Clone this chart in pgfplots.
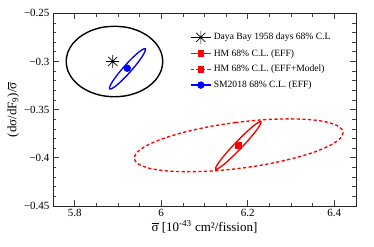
\documentclass[border=0pt]{standalone}
\usepackage{fontspec}
\setmainfont{Liberation Serif}
\usepackage{pgfplots}
\pgfplotsset{compat=1.18}
\pgfdeclareplotmark{star8}{%
  \pgfpathmoveto{\pgfqpoint{-\pgfplotmarksize}{0pt}}\pgfpathlineto{\pgfqpoint{\pgfplotmarksize}{0pt}}%
  \pgfpathmoveto{\pgfqpoint{0pt}{-\pgfplotmarksize}}\pgfpathlineto{\pgfqpoint{0pt}{\pgfplotmarksize}}%
  \pgfpathmoveto{\pgfqpoint{-0.7071\pgfplotmarksize}{-0.7071\pgfplotmarksize}}\pgfpathlineto{\pgfqpoint{0.7071\pgfplotmarksize}{0.7071\pgfplotmarksize}}%
  \pgfpathmoveto{\pgfqpoint{-0.7071\pgfplotmarksize}{0.7071\pgfplotmarksize}}\pgfpathlineto{\pgfqpoint{0.7071\pgfplotmarksize}{-0.7071\pgfplotmarksize}}%
  \pgfusepathqstroke}
\begin{document}
\begin{tikzpicture}
\begin{axis}[
  width=303pt, height=192.7pt, scale only axis,
  xmin=5.75, xmax=6.45, ymin=-0.45, ymax=-0.25,
  axis line style={black!85, line width=0.8pt},
  xtick={5.8,6,6.2,6.4}, xticklabels={5.8,6,6.2,6.4},
  minor xtick={5.85,5.9,5.95,6.05,6.1,6.15,6.25,6.3,6.35},
  ytick={-0.45,-0.4,-0.35,-0.3,-0.25},
  yticklabels={−0.45,−0.4,−0.35,−0.3,−0.25},
  minor ytick={-0.44,-0.43,-0.42,-0.41,-0.39,-0.38,-0.37,-0.36,-0.34,-0.33,-0.32,-0.31,-0.29,-0.28,-0.27,-0.26},
  tick align=inside, major tick length=6pt, minor tick length=3.5pt,
  tick style={black!75, line width=0.7pt},
  ticklabel style={font=\fontsize{11}{13}\selectfont},
  xlabel={$\overline{\mbox{σ}}$ [10\textsuperscript{-43} cm²/fission]},
  ylabel={(dσ/dF\textsubscript{9})/$\overline{\mbox{σ}}$},
  label style={font=\fontsize{13}{15}\selectfont},
  xlabel style={yshift=3pt},
  ylabel style={yshift=-2pt},
  legend style={at={(0.448,0.915)}, anchor=north west, draw=none, fill=none,
    font=\fontsize{9.6}{11}\selectfont, row sep=3.6pt, inner sep=1pt},
  legend cell align=left,
  legend image code/.code={\draw[mark repeat=2,mark phase=2,#1] plot coordinates {(0cm,0cm) (0.36cm,0cm) (0.72cm,0cm)};},
]
% Daya Bay ellipse
\addplot[black, line width=1.4pt, smooth, forget plot] coordinates {
(5.8920,-0.2634) (5.8631,-0.2646) (5.8363,-0.2683) (5.8132,-0.2741) (5.7954,-0.2817) (5.7843,-0.2905)
(5.7805,-0.3000) (5.7843,-0.3095) (5.7954,-0.3183) (5.8132,-0.3259) (5.8363,-0.3317) (5.8631,-0.3354)
(5.8920,-0.3366) (5.9209,-0.3354) (5.9478,-0.3317) (5.9708,-0.3259) (5.9886,-0.3183) (5.9997,-0.3095)
(6.0035,-0.3000) (5.9997,-0.2905) (5.9886,-0.2817) (5.9708,-0.2741) (5.9478,-0.2683) (5.9209,-0.2646)
(5.8920,-0.2634)};
% HM EFF ellipse
\addplot[red, line width=1.35pt, smooth, forget plot] coordinates {
(6.1717,-0.3845) (6.1583,-0.3909) (6.1463,-0.3972) (6.1365,-0.4027) (6.1295,-0.4072) (6.1258,-0.4103)
(6.1256,-0.4119) (6.1290,-0.4117) (6.1358,-0.4099) (6.1454,-0.4066) (6.1573,-0.4019) (6.1706,-0.3962)
(6.1843,-0.3899) (6.1977,-0.3835) (6.2097,-0.3772) (6.2195,-0.3717) (6.2265,-0.3672) (6.2302,-0.3641)
(6.2304,-0.3625) (6.2270,-0.3627) (6.2202,-0.3645) (6.2106,-0.3678) (6.1987,-0.3725) (6.1854,-0.3782)
(6.1717,-0.3845)};
% HM EFF+Model ellipse
\addplot[red, line width=1.35pt, smooth, dash pattern=on 3.2pt off 2.4pt, forget plot] coordinates {
(6.1723,-0.3633) (6.1101,-0.3677) (6.0526,-0.3735) (6.0037,-0.3801) (5.9667,-0.3872) (5.9442,-0.3943)
(5.9377,-0.4009) (5.9477,-0.4065) (5.9734,-0.4109) (6.0131,-0.4136) (6.0641,-0.4144) (6.1230,-0.4135)
(6.1857,-0.4107) (6.2479,-0.4063) (6.3054,-0.4005) (6.3544,-0.3939) (6.3913,-0.3868) (6.4138,-0.3797)
(6.4203,-0.3731) (6.4103,-0.3675) (6.3846,-0.3631) (6.3449,-0.3604) (6.2939,-0.3596) (6.2350,-0.3605)
(6.1723,-0.3633)};
% SM2018 ellipse
\addplot[blue, line width=1.35pt, smooth, forget plot] coordinates {
(5.9151,-0.3049) (5.9047,-0.3104) (5.8955,-0.3157) (5.8880,-0.3205) (5.8829,-0.3244) (5.8805,-0.3271)
(5.8809,-0.3285) (5.8840,-0.3285) (5.8898,-0.3271) (5.8978,-0.3244) (5.9074,-0.3205) (5.9180,-0.3158)
(5.9289,-0.3105) (5.9393,-0.3050) (5.9485,-0.2997) (5.9560,-0.2949) (5.9611,-0.2910) (5.9635,-0.2883)
(5.9631,-0.2869) (5.9600,-0.2869) (5.9542,-0.2883) (5.9462,-0.2910) (5.9366,-0.2949) (5.9260,-0.2996)
(5.9151,-0.3049)};
% central points
\addplot[black, line width=0.9pt, mark=star8, mark size=6.5pt, mark options={line width=0.7pt}] coordinates {(5.888,-0.300)};
\addlegendentry{Daya Bay 1958 days 68\% C.L}
\addplot[red, line width=1.35pt, mark=square*, mark size=2.6pt, mark options={solid}] coordinates {(6.178,-0.3872)};
\addlegendentry{HM 68\% C.L. (EFF)}
\addplot[red, line width=1.35pt, dash pattern=on 3.2pt off 2.4pt, mark=square*, mark size=2.6pt, mark options={solid}] coordinates {(6.178,-0.3872)};
\addlegendentry{HM 68\% C.L. (EFF+Model)}
\addplot[blue, line width=1.35pt, mark=*, mark size=3pt] coordinates {(5.9215,-0.3070)};
\addlegendentry{SM2018 68\% C.L. (EFF)}
\coordinate (sw) at (rel axis cs:0,0);
\coordinate (ne) at (rel axis cs:1,1);
\end{axis}
\pgfresetboundingbox
\path ([shift={(-53pt,-40.3pt)}]sw) rectangle ([shift={(18pt,13.3pt)}]ne);
\end{tikzpicture}
\end{document}
